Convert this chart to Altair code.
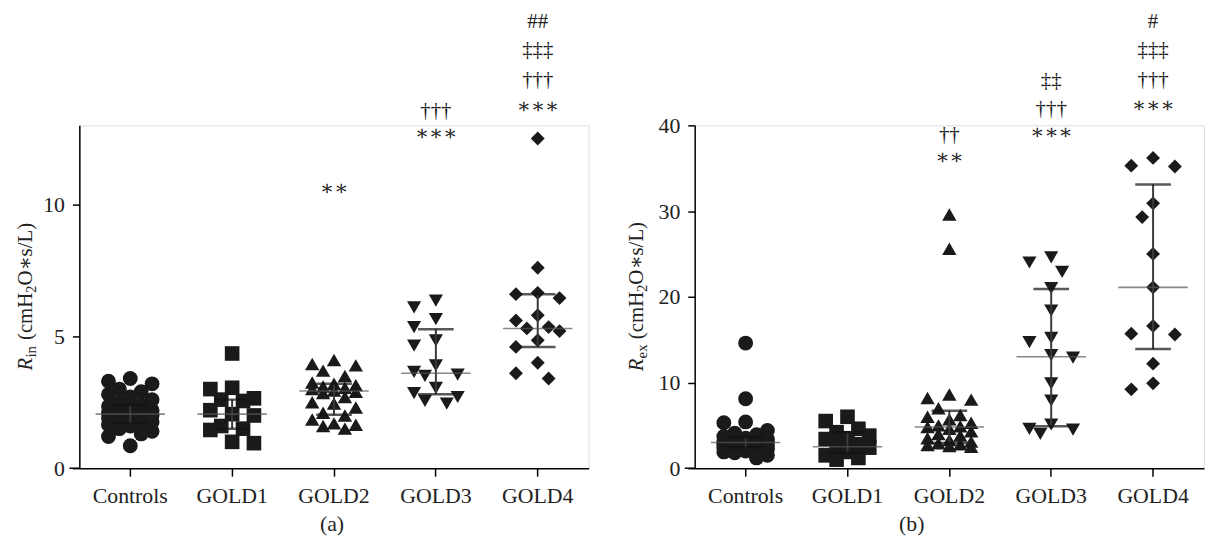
import math
import altair as alt
import pandas as pd

# ---------------- data ----------------
groups = ["Controls", "GOLD1", "GOLD2", "GOLD3", "GOLD4"]
shapes = ["circle", "square", "triangle-up", "triangle-down", "diamond"]
sizes = [225, 196, 256, 256, 324]

# Panel (a): R_in
rin_controls = [3.4, 3.3, 3.2, 3.0, 2.9, 2.8, 2.7, 2.6, 2.5, 2.4, 2.35, 2.3, 2.2, 2.2, 2.1, 2.1,
                2.05, 2.0, 2.0, 1.95, 1.9, 1.85, 1.8, 1.75, 1.7, 1.65, 1.6, 1.5, 1.4, 1.3, 1.2, 0.85]
rin_gold1 = [4.35, 3.05, 3.0, 2.65, 2.6, 2.55, 2.2, 2.05, 2.0, 1.6, 1.5, 1.45, 1.0, 0.95]
rin_gold2 = [4.1, 3.95, 3.9, 3.7, 3.5, 3.25, 3.2, 3.15, 3.1, 3.05, 3.0, 2.95, 2.9, 2.85, 2.7,
             2.5, 2.45, 2.3, 2.1, 2.0, 1.85, 1.7, 1.65, 1.6, 1.5]
rin_gold3 = [6.35, 6.1, 5.65, 5.35, 4.85, 4.65, 3.9, 3.65, 3.55, 3.5, 3.05, 2.85, 2.7, 2.55, 2.45]
rin_gold4 = [12.5, 7.6, 6.65, 6.6, 6.45, 5.8, 5.6, 5.35, 5.3, 5.2, 4.85, 4.6, 4.0, 3.6, 3.4]
rin_median = [2.05, 2.05, 2.93, 3.6, 5.3]
rin_lower = [1.7, 1.5, 2.03, 2.8, 4.6]
rin_upper = [2.4, 2.6, 3.2, 5.27, 6.6]
rin_ann_group = ["GOLD2", "GOLD3", "GOLD3", "GOLD4", "GOLD4", "GOLD4", "GOLD4"]
rin_ann_y = [10.59, 12.66, 13.56, 13.71, 14.73, 15.86, 16.92]
rin_ann_text = ["∗∗", "∗∗∗", "†††", "∗∗∗", "†††", "‡‡‡", "##"]

# Panel (b): R_ex
rex_controls = [14.6, 8.1, 5.4, 5.3, 4.4, 4.1, 3.9, 3.7, 3.5, 3.4, 3.3, 3.2, 3.1, 3.0, 3.0, 2.9,
                2.8, 2.8, 2.7, 2.6, 2.6, 2.5, 2.4, 2.4, 2.3, 2.2, 2.1, 2.0, 1.9, 1.8, 1.5, 1.2]
rex_gold1 = [6.0, 5.5, 4.6, 4.2, 3.8, 3.5, 3.4, 2.8, 2.6, 2.4, 1.9, 1.5, 1.2, 1.0]
rex_gold2 = [29.6, 25.6, 8.6, 8.2, 8.0, 7.0, 6.2, 6.0, 5.7, 5.3, 5.0, 4.9, 4.8, 4.6, 4.3, 4.0,
             3.8, 3.5, 3.3, 3.1, 2.9, 2.8, 2.7, 2.6, 2.5]
rex_gold3 = [24.6, 24.0, 22.9, 21.0, 18.4, 15.2, 14.7, 13.2, 12.9, 9.9, 7.9, 5.1, 4.6, 4.5, 4.0]
rex_gold4 = [36.2, 35.3, 35.2, 30.9, 29.3, 25.0, 21.1, 16.6, 15.7, 15.6, 12.2, 9.9, 9.2]
rex_median = [3.0, 2.5, 4.8, 13.0, 21.1]
rex_lower = [2.4, 1.8, 2.95, 4.9, 13.9]
rex_upper = [3.6, 4.2, 6.7, 20.9, 33.1]
rex_ann_group = ["GOLD2", "GOLD2", "GOLD3", "GOLD3", "GOLD3", "GOLD4", "GOLD4", "GOLD4", "GOLD4"]
rex_ann_y = [36.2, 38.9, 39.1, 41.9, 45.2, 42.2, 45.3, 48.8, 52.0]
rex_ann_text = ["∗∗", "††", "∗∗∗", "†††", "‡‡", "∗∗∗", "†††", "‡‡‡", "#"]

# ---------------- layout ----------------
W, H = 514, 346
BAND = W / len(groups)
FONT = "Liberation Serif, DejaVu Serif, serif"
INK = "#1a1a1a"
FS = 22


def swarm(vals, ppu, step=11, nmax=2, dmin=16):
    """Simple deterministic beeswarm: horizontal pixel offsets for a column scatter."""
    cands = sorted([k * step for k in range(-nmax, nmax + 1)], key=lambda o: (abs(o), o))
    order = sorted(range(len(vals)), key=lambda i: -vals[i])
    placed, offs = [], [0] * len(vals)
    for i in order:
        y = vals[i] * ppu
        best, bestd = None, -1
        for c in cands:
            md = min((math.hypot(c - px, y - py) for px, py in placed), default=1e9)
            if md >= dmin:
                best = c
                break
            if md > bestd:
                bestd, best = md, c
        offs[i] = best
        placed.append((best, y))
    return offs


def panel(series, med, lo, hi, ann_g, ann_y, ann_t, ymax, ticks, sub, caption, cap_x, title_x):
    ppu = H / ymax
    rows = []
    for g, vals in zip(groups, series):
        for v, o in zip(vals, swarm(vals, ppu)):
            rows.append({"group": g, "value": v, "off": o + BAND / 2})
    pts = pd.DataFrame(rows)
    summ = pd.DataFrame({"group": groups, "med": med, "lo": lo, "hi": hi})
    ann = pd.DataFrame({"group": ann_g, "y": ann_y, "t": ann_t})

    xscale = alt.Scale(domain=groups, paddingInner=0, paddingOuter=0)
    yscale = alt.Scale(domain=[0, ymax], nice=False, zero=True)
    X = alt.X("group:N", sort=groups, scale=xscale, title=None,
              axis=alt.Axis(labelAngle=0, tickSize=8, labelPadding=10, labelFont=FONT,
                            labelFontSize=FS, labelColor="#222", domainColor="black",
                            tickColor="black", domainWidth=1.5, tickWidth=1.5, grid=False))
    Y = alt.Y("value:Q", scale=yscale, title=None,
              axis=alt.Axis(values=ticks, tickSize=7, labelPadding=8, labelFont=FONT,
                            labelFontSize=FS, labelColor="#222", domainColor="black",
                            tickColor="black", domainWidth=1.5, tickWidth=1.5, grid=False))

    points = alt.Chart(pts).mark_point(filled=True, opacity=1, color=INK, strokeWidth=0).encode(
        x=X,
        xOffset=alt.XOffset("off:Q", scale=None),
        y=Y,
        shape=alt.Shape("group:N", scale=alt.Scale(domain=groups, range=shapes), legend=None),
        size=alt.Size("group:O", scale=alt.Scale(domain=groups, range=sizes), legend=None),
    )
    sb = alt.Chart(summ)
    vline = sb.mark_rule(color="#3a3a3a", strokeWidth=2).encode(
        x=X, y=alt.Y("lo:Q", scale=yscale), y2="hi:Q")
    cap_lo = sb.mark_tick(color="#111", thickness=2.5, size=36).encode(x=X, y=alt.Y("lo:Q", scale=yscale))
    cap_hi = sb.mark_tick(color="#111", thickness=2.5, size=36).encode(x=X, y=alt.Y("hi:Q", scale=yscale))
    medl = sb.mark_tick(color="#555", thickness=1.6, size=70).encode(x=X, y=alt.Y("med:Q", scale=yscale))

    texts = alt.Chart(ann).mark_text(font=FONT, fontSize=21, color="#222", baseline="middle").encode(
        x=X, y=alt.Y("y:Q", scale=yscale), text="t:N")

    one = pd.DataFrame({"k": [0]})
    # axis title pieces, rotated: R(italic) + subscript + (cmH + 2 + O∗s/L)
    pieces = [("R", 21, "italic", 0), (sub, 15, "normal", 4), ("(cmH", 21, "normal", 0),
              ("2", 15, "normal", 4), ("O∗s/L)", 21, "normal", 0)]
    widths = [13.0, (11.7 if sub == "in" else 13.5) + 6.0, 47.5, 7.5, 63.0]
    total = sum(widths)
    y0 = H / 2 + total / 2
    layers_t = []
    acc = 0
    for (txt, fs, st, dy), w in zip(pieces, widths):
        layers_t.append(alt.Chart(one).mark_text(text=txt, font=FONT, fontSize=fs, fontStyle=st,
                                                 angle=270, align="left", baseline="alphabetic",
                                                 dx=acc, dy=dy, color="#222")
                        .encode(x=alt.value(title_x), y=alt.value(y0)))
        acc += w
    cap = alt.Chart(one).mark_text(text=caption, font=FONT, fontSize=FS, color="#222",
                                   baseline="middle").encode(x=alt.value(cap_x), y=alt.value(H + 56))
    ext = alt.Chart(one).mark_rule(color="black", strokeWidth=1.5).encode(
        x=alt.value(-10), x2=alt.value(0), y=alt.value(H), y2=alt.value(H))

    return alt.layer(points, vline, cap_lo, cap_hi, medl, texts, ext, cap, *layers_t).properties(
        width=W, height=H)


pa = panel([rin_controls, rin_gold1, rin_gold2, rin_gold3, rin_gold4], rin_median, rin_lower, rin_upper,
           rin_ann_group, rin_ann_y, rin_ann_text, 13, [0, 5, 10], "in", "(a)", 255, -48)
pb = panel([rex_controls, rex_gold1, rex_gold2, rex_gold3, rex_gold4], rex_median, rex_lower, rex_upper,
           rex_ann_group, rex_ann_y, rex_ann_text, 40, [0, 10, 20, 30, 40], "ex", "(b)", 219, -52)

chart = alt.hconcat(pa, pb, spacing=36).properties(
    padding={"left": 6, "top": 0, "right": 0, "bottom": 0}
).configure_view(stroke=None).configure(background="white")

chart.save("out.html", embed_options={"renderer": "svg", "actions": False})
